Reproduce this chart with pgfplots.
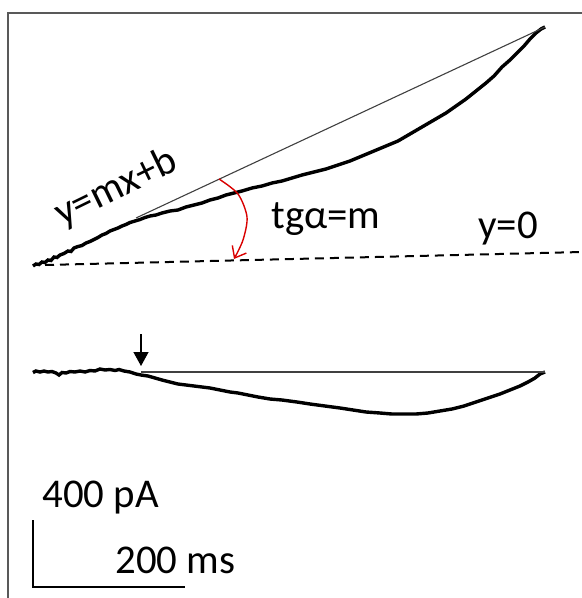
\documentclass[border=0pt]{standalone}
\usepackage{fontspec}
\setmainfont{Carlito}
\usepackage{pgfplots}
\pgfplotsset{compat=1.18}
\usetikzlibrary{arrows.meta}

\tikzset{lbl/.style={font=\fontsize{20.5}{24}\selectfont, inner sep=0pt}}

\begin{document}
\begin{tikzpicture}
\begin{axis}[
    scale only axis,
    width=291bp, height=299bp,
    xmin=0, xmax=582, ymin=0, ymax=598,
    y dir=reverse,
    hide axis,
    clip=false,
]
% frame (left and top only)
\addplot[draw=black!65, line width=1bp] coordinates {(8,598) (8,13) (582,13)};

% upper trace
\addplot[black, line width=1.7bp] coordinates {
    (33,266) (36,264) (39,264.5) (42,262) (45,262.5) (48,260) (51,260.5) (54,257)
    (57,257.5) (60,255) (64,253.5) (68,251) (71,251.5) (74,248) (78,246.5) (82,245.5)
    (86,243) (90,241.5) (94,239.5) (98,237.5) (102,235) (106,233.5) (110,231) (114,229.5)
    (118,228) (122,226) (126,224.5) (130,222.5) (135,221) (140,219.5) (145,217.5)
    (150,216) (156,215) (162,213) (170,211) (178,210) (186,207) (194,205)
    (202,203) (210,200) (218,198) (226,195) (234,193) (242,191) (252,188)
    (262,186) (272,183) (282,181) (292,178) (302,175) (314,172) (326,169)
    (338,165) (350,161) (362,156) (374,151) (386,146) (398,141) (410,134)
    (422,127) (434,120) (446,113) (456,106) (466,99) (476,91) (486,83)
    (494,76) (502,67) (510,60) (518,52) (524,46) (530,39) (536,33) (541,29) (545,27)
};
% secant y=mx+b
\addplot[black!75, line width=0.55bp] coordinates {(136,218) (545,27)};
% baseline y=0
\addplot[black, line width=1bp, dash pattern=on 4.5bp off 3bp] coordinates {(45,265) (582,252)};
% angle arrow
\addplot[red!85!black, line width=0.7bp, smooth, -{Straight Barb[length=5bp,width=8bp]}]
    coordinates {(219,179) (238,194) (247,217) (243,240) (234,259)};

% lower trace
\addplot[black, line width=1.7bp] coordinates {
    (33,372.5) (36,371) (40,372) (44,371) (48,372) (52,371.5) (56,373) (59,375)
    (62,372.5) (66,373) (70,371.5) (75,372) (80,371) (85,372) (90,370.5) (95,371)
    (100,369) (105,370) (110,369.5) (115,370.5) (119,369.5) (124,371) (130,372)
    (136,374) (141,375) (148,376) (155,378) (162,380) (170,382) (178,384)
    (186,385) (194,386) (202,387) (210,388) (220,390) (230,392) (238,393)
    (248,395) (258,397) (270,399) (282,400) (297,402) (310,404) (325,406)
    (340,408) (353,410) (366,412) (380,413) (392,414) (404,414) (416,414)
    (428,413) (440,411) (452,409) (464,406) (476,402) (488,398) (500,394)
    (510,390) (520,386) (528,382) (535,378) (540,374) (545,372)
};
% reference line
\addplot[black!75, line width=0.55bp] coordinates {(141,372) (545,372)};
% onset arrow
\addplot[black, line width=0.7bp, -{Triangle[length=7bp,width=7.5bp]}]
    coordinates {(141,334) (141,366)};

% scale bar
\addplot[black, line width=1bp] coordinates {(33,520) (33,587) (185,587)};

% labels
\node[lbl, anchor=base west, rotate=26] at (axis cs:62,227) {y=mx+b};
\node[lbl, anchor=base west] at (axis cs:271,228) {tgα=m};
\node[lbl, anchor=base west] at (axis cs:478,238) {y=0};
\node[lbl, anchor=base west] at (axis cs:42,507) {400 pA};
\node[lbl, anchor=base west] at (axis cs:115,573) {200 ms};
\end{axis}
\pgfresetboundingbox
\path (current axis.south west) rectangle (current axis.north east);
\end{tikzpicture}
\end{document}
